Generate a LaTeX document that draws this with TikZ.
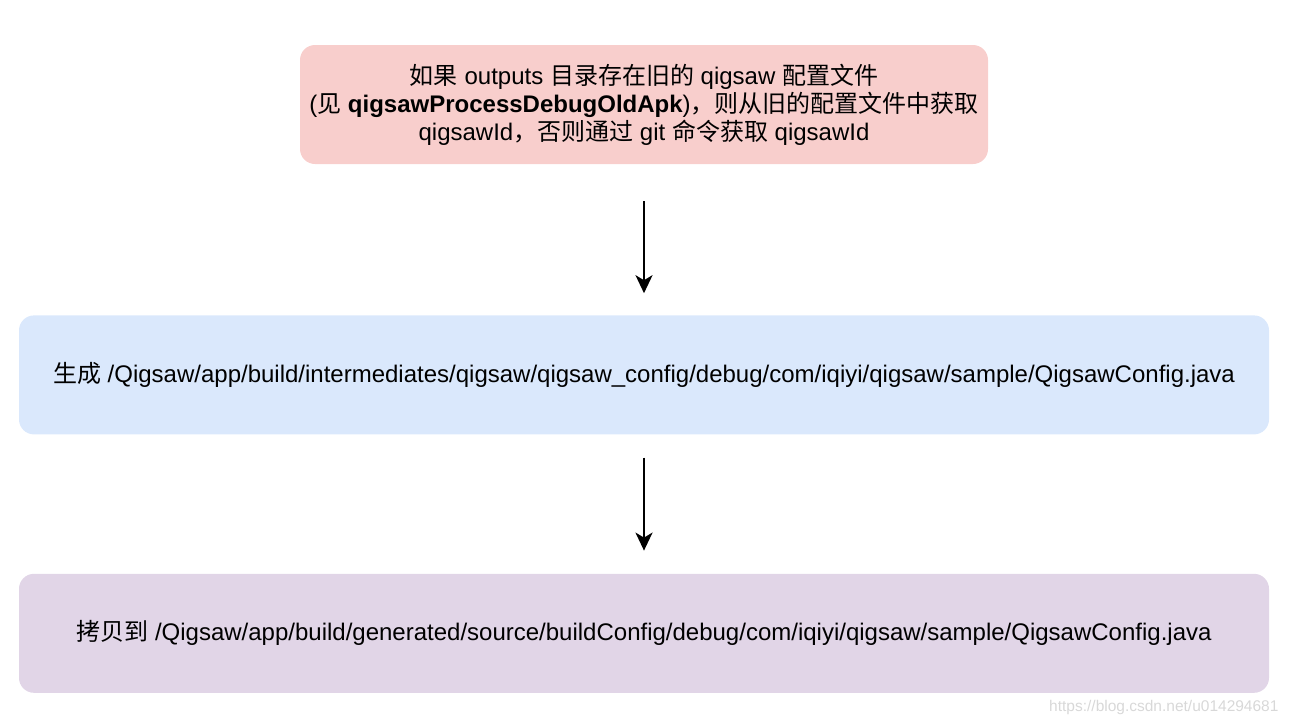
\documentclass[tikz,border=0pt]{standalone}
\usepackage{fontspec}
\setmainfont{Liberation Sans}
\newfontfamily\cjk{Noto Sans CJK SC}
\newcommand{\zh}[1]{{\cjk #1}}
\usetikzlibrary{positioning, arrows.meta}
\definecolor{ink}{HTML}{000000}
\definecolor{oldcfg}{HTML}{F8CECC}
\definecolor{gencfg}{HTML}{DAE8FC}
\definecolor{copycfg}{HTML}{E1D5E7}
\definecolor{wmark}{HTML}{D8D8D8}
\tikzset{
  every node/.style = {text=ink},
  qsbox/.style  = {draw=none, rounded corners=15pt, align=center, inner sep=0pt,
                   minimum height=119pt, font=\fontsize{24}{28}\selectfont},
  qsold/.style  = {qsbox, fill=oldcfg, minimum width=688pt},
  qsgen/.style  = {qsbox, fill=gencfg, minimum width=1250pt},
  qscopy/.style = {qsbox, fill=copycfg, minimum width=1250pt},
  qsgo/.style   = {-{Stealth[length=18pt,width=17pt,inset=5pt]}, draw=ink, line width=2pt},
  qsmark/.style = {font=\fontsize{15.5}{18}\selectfont, text=wmark, anchor=east},
}

\begin{document}
\begin{tikzpicture}[x=1pt, y=-1pt]
\useasboundingbox (0,0) rectangle (1292,724);

\node[qsold] (O) at (644,104.5)
  {\zh{如果} outputs \zh{目录存在旧的} qigsaw \zh{配置文件}\\
   (\zh{见} \textbf{qigsawProcessDebugOldApk})\zh{，则从旧的配置文件中获取}\\
   qigsawId\zh{，否则通过} git \zh{命令获取} qigsawId};
\node[qsgen, below=151pt of O] (G)
  {\zh{生成} /Qigsaw/app/build/intermediates/qigsaw/qigsaw\_config/debug/com/iqiyi/qigsaw/sample/QigsawConfig.java};
\node[qscopy, below=139pt of G] (C)
  {\zh{拷贝到} /Qigsaw/app/build/generated/source/buildConfig/debug/com/iqiyi/qigsaw/sample/QigsawConfig.java};

\draw[qsgo, shorten <=37pt, shorten >=22pt] (O) -- (G);
\draw[qsgo, shorten <=23pt, shorten >=23pt] (G) -- (C);

\node[qsmark] (W) at (1282,707) {https://blog.csdn.net/u014294681};
\end{tikzpicture}
\end{document}
